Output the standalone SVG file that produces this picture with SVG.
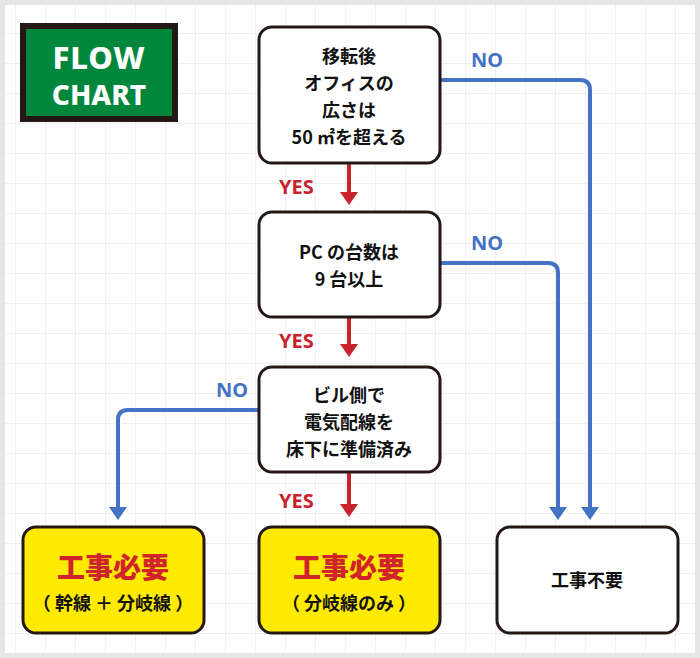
<svg xmlns="http://www.w3.org/2000/svg" width="700" height="658" viewBox="0 0 700 658">
<defs>
<pattern id="grid" x="15" y="3" width="30" height="30" patternUnits="userSpaceOnUse"><path d="M0 0H30M0 0V30" fill="none" stroke="#ececec" stroke-width="1.5"/></pattern>
</defs>
<style>
.box{stroke:#231815;stroke-width:3}
.t{font-family:"Noto Sans CJK JP","Noto Sans",sans-serif;font-size:18px;font-weight:700;fill:#111;text-anchor:middle}
.big{font-family:"Noto Sans CJK JP",sans-serif;font-size:28px;font-weight:900;fill:#d1232a;text-anchor:middle}
.yes{font-family:"Noto Sans","Liberation Sans",sans-serif;font-size:20px;font-weight:700;fill:#c8232c}
.no{font-family:"Noto Sans","Liberation Sans",sans-serif;font-size:20px;font-weight:700;fill:#4472c4}
.red{stroke:#c8232c;stroke-width:4;fill:none}
.blue{stroke:#4472c4;stroke-width:4;fill:none}
.bt{font-family:"Noto Sans",sans-serif;font-weight:800;fill:#fff;text-anchor:middle}
</style>
<rect width="700" height="658" fill="#e6e6e6"/>
<rect x="5" y="5" width="690" height="648" fill="#fff"/>
<rect x="5" y="5" width="690" height="648" fill="url(#grid)"/>
<g id="badge">
<rect x="20" y="23" width="158" height="99" fill="#231815"/>
<rect x="26" y="29" width="146" height="87" fill="#00873c"/>
<text class="bt" x="99" y="69" font-size="31" letter-spacing="1">FLOW</text>
<text class="bt" x="99" y="105" font-size="28">CHART</text>
</g>
<g id="connectors">
<path class="red" d="M349 164V193"/><path d="M340 192h18l-9 13z" fill="#c8232c"/>
<path class="red" d="M349 318V345"/><path d="M340 344h18l-9 13z" fill="#c8232c"/>
<path class="red" d="M349 473V505"/><path d="M340 504h18l-9 13z" fill="#c8232c"/>
<path class="blue" d="M441 80H580Q590 80 590 90V508"/><path d="M581 507h18l-9 13z" fill="#4472c4"/>
<path class="blue" d="M441 263H548Q558 263 558 273V508"/><path d="M549 507h18l-9 13z" fill="#4472c4"/>
<path class="blue" d="M258 410H128Q118 410 118 420V508"/><path d="M109 507h18l-9 13z" fill="#4472c4"/>
<text class="yes" x="279" y="194">YES</text>
<text class="yes" x="279" y="348">YES</text>
<text class="yes" x="279" y="508">YES</text>
<text class="no" x="471" y="67">NO</text>
<text class="no" x="471" y="250">NO</text>
<text class="no" x="216" y="397">NO</text>
</g>
<g id="q1"><rect class="box" x="259" y="27" width="181" height="136" rx="13" fill="#fff"/>
<text class="t" x="349" y="63">移転後</text><text class="t" x="349" y="90">オフィスの</text><text class="t" x="349" y="117">広さは</text><text class="t" x="349" y="144">50 ㎡を超える</text></g>
<g id="q2"><rect class="box" x="259" y="212" width="181" height="105" rx="13" fill="#fff"/>
<text class="t" x="349" y="259">PC の台数は</text><text class="t" x="349" y="286">9 台以上</text></g>
<g id="q3"><rect class="box" x="259" y="367" width="181" height="105" rx="13" fill="#fff"/>
<text class="t" x="349" y="402">ビル側で</text><text class="t" x="349" y="429">電気配線を</text><text class="t" x="349" y="456">床下に準備済み</text></g>
<g id="r1"><rect class="box" x="23" y="527" width="181" height="106" rx="13" fill="#ffea00"/>
<text class="big" x="113" y="578">工事必要</text><text class="t" x="113" y="610">（ 幹線 ＋ 分岐線 ）</text></g>
<g id="r2"><rect class="box" x="259" y="527" width="181" height="106" rx="13" fill="#ffea00"/>
<text class="big" x="349" y="578">工事必要</text><text class="t" x="349" y="610">（ 分岐線のみ ）</text></g>
<g id="r3"><rect class="box" x="497" y="527" width="181" height="106" rx="13" fill="#fff"/>
<text class="t" x="587" y="587">工事不要</text></g>
</svg>
